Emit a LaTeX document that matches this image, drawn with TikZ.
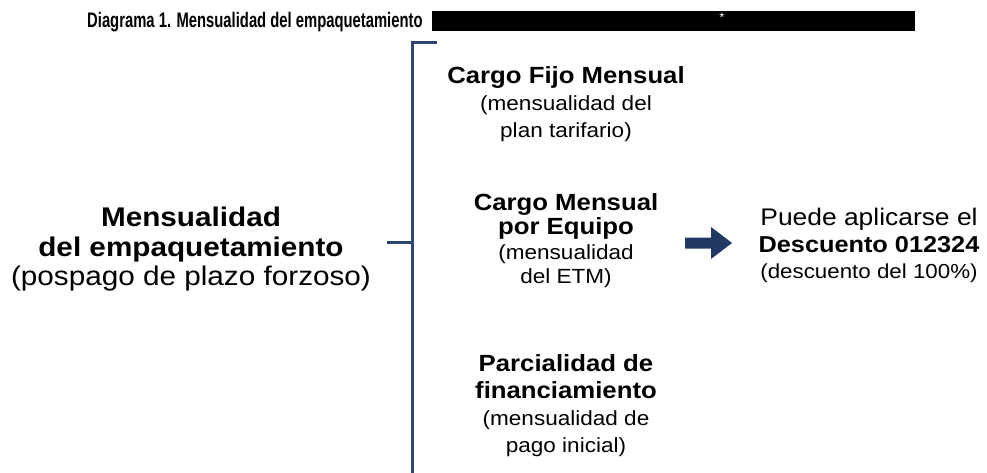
\documentclass[tikz,border=0pt]{standalone}
\usepackage{fontspec}
\setmainfont{Liberation Sans}[FakeStretch=1.1]
\newfontfamily\titlefont{Liberation Sans}[FakeStretch=0.705]
\definecolor{bracketblue}{RGB}{46,70,115}
\definecolor{arrowblue}{RGB}{31,56,100}

\begin{document}
\begin{tikzpicture}[x=1pt,y=-1pt,every node/.style={inner sep=0pt,align=center,anchor=north},
    bracket/.style={draw=bracketblue,line width=3pt},
    midtext/.style={font=\fontsize{20.5}{27}\selectfont}]
      \useasboundingbox (0,0) rectangle (987,473);
      \node[anchor=base west,font=\titlefont\bfseries\fontsize{21}{22}\selectfont] (title) at (87,28) {Diagrama 1. Mensualidad del empaquetamiento};
      \node[fill=black,anchor=north west,minimum width=483pt,minimum height=20pt] (mask) at (432,11) {};
      \node[text=white,font=\fontsize{12}{12}\selectfont] (star) at (722,13) {*};
      \node[font=\fontsize{27}{29.5}\selectfont] (main) at (191,207) {\textbf{Mensualidad}\\\textbf{del empaquetamiento}\\(pospago de plazo forzoso)};
      \node[midtext] (fijo) at (566,66) {{\bfseries\fontsize{23.4}{28}\selectfont Cargo Fijo Mensual}\\(mensualidad del\\plan tarifario)};
      \node[midtext,font=\fontsize{20.5}{24.5}\selectfont] (equipo) at (566,193) {{\bfseries\fontsize{23.4}{26.5}\selectfont Cargo Mensual}\\{\bfseries\fontsize{23.4}{26}\selectfont por Equipo}\\(mensualidad\\del ETM)};
      \node[midtext] (parcial) at (566,354) {{\bfseries\fontsize{23.4}{28}\selectfont Parcialidad de}\\{\bfseries\fontsize{23.4}{28}\selectfont financiamiento}\\(mensualidad de\\pago inicial)};
      \node[font=\fontsize{20.3}{26.5}\selectfont] (desc) at (869,208) {{\fontsize{24}{26.5}\selectfont Puede aplicarse el}\\{\bfseries\fontsize{23}{26.5}\selectfont Descuento 012324}\\(descuento del 100\%)};
      \coordinate (btop) at (437,43);
      \coordinate (bcorner) at (412,43);
      \coordinate (bbot) at (412,476);
      \coordinate (bmid) at (412,242);
      \coordinate (btick) at (387,242);
      \draw[bracket] (btop)--(bcorner)--(bbot);
      \draw[bracket] (btick)--(bmid);
      \fill[arrowblue] (685,237.5)--(711,237.5)--(711,227)--(732,243)--(711,259)--(711,248.5)--(685,248.5)--cycle;
    \end{tikzpicture}
\end{document}
